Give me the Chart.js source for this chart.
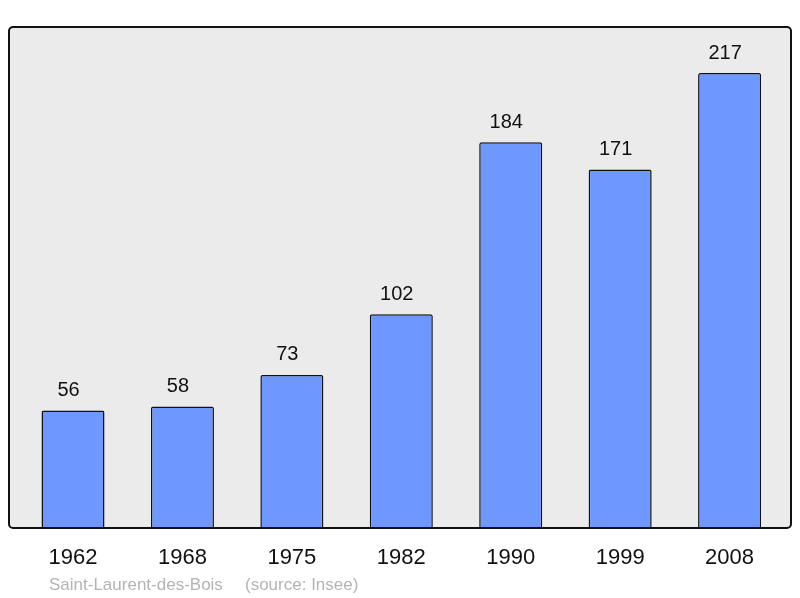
<!DOCTYPE html>
<html>
<head>
<meta charset="utf-8">
<script src="https://cdn.jsdelivr.net/npm/chart.js@4/dist/chart.umd.min.js"></script>
<style>
html,body{margin:0;padding:0;background:#fff;}
#wrap{width:800px;height:598px;position:relative;}
</style>
</head>
<body>
<div id="wrap"><canvas id="c" width="800" height="598"></canvas></div>
<script>
const years = ["1962","1968","1975","1982","1990","1999","2008"];
const population = [56, 58, 73, 102, 184, 171, 217];
const footerPlace = "Saint-Laurent-des-Bois";
const footerSource = "(source: Insee)";

const FONT = '"Liberation Sans", Arial, sans-serif';

function roundRect(ctx, x, y, w, h, r) {
  ctx.beginPath();
  ctx.moveTo(x + r, y);
  ctx.lineTo(x + w - r, y);
  ctx.arcTo(x + w, y, x + w, y + r, r);
  ctx.lineTo(x + w, y + h - r);
  ctx.arcTo(x + w, y + h, x + w - r, y + h, r);
  ctx.lineTo(x + r, y + h);
  ctx.arcTo(x, y + h, x, y + h - r, r);
  ctx.lineTo(x, y + r);
  ctx.arcTo(x, y, x + r, y, r);
  ctx.closePath();
}

const frame = {
  id: 'frame',
  beforeDatasetsDraw(chart) {
    const ctx = chart.ctx;
    const a = chart.chartArea;
    ctx.save();
    roundRect(ctx, 9, a.top, 782, a.bottom - a.top, 4);
    ctx.fillStyle = '#ebebeb';
    ctx.fill();
    ctx.restore();
  },
  afterDatasetsDraw(chart) {
    const ctx = chart.ctx;
    const a = chart.chartArea;
    ctx.save();
    roundRect(ctx, 9, a.top, 782, a.bottom - a.top, 4);
    ctx.lineWidth = 2;
    ctx.strokeStyle = '#111';
    ctx.stroke();
    // value labels
    const meta = chart.getDatasetMeta(0);
    ctx.font = '20px ' + FONT;
    ctx.fillStyle = '#111';
    ctx.textAlign = 'center';
    ctx.textBaseline = 'alphabetic';
    meta.data.forEach((bar, i) => {
      ctx.fillText(String(population[i]), bar.x - 4.5, bar.y - 14.5);
    });
    // footer
    ctx.font = '17px ' + FONT;
    ctx.fillStyle = '#b4b4b4';
    ctx.textAlign = 'left';
    ctx.fillText(footerPlace, 49, 590);
    ctx.fillText(footerSource, 245, 590);
    ctx.restore();
  }
};

new Chart(document.getElementById('c'), {
  type: 'bar',
  data: {
    labels: years,
    datasets: [{
      data: population,
      backgroundColor: '#6f98ff',
      borderColor: '#111',
      borderWidth: 1.5,
      borderRadius: 2,
      borderSkipped: 'bottom',
      barPercentage: 0.576,
      categoryPercentage: 1
    }]
  },
  options: {
    responsive: false,
    animation: false,
    events: [],
    layout: { padding: { left: 18.3, right: 15.7, top: 27, bottom: 0 } },
    plugins: { legend: { display: false }, tooltip: { enabled: false } },
    scales: {
      x: {
        offset: true,
        grid: { display: false, drawTicks: false },
        border: { display: false },
        ticks: { font: { size: 22, family: FONT }, color: '#111', padding: 17, maxRotation: 0, autoSkip: false },
        afterFit(s) { s.height = 70; }
      },
      y: {
        display: false,
        min: 0,
        max: 239
      }
    }
  },
  plugins: [frame]
});
</script>
</body>
</html>
